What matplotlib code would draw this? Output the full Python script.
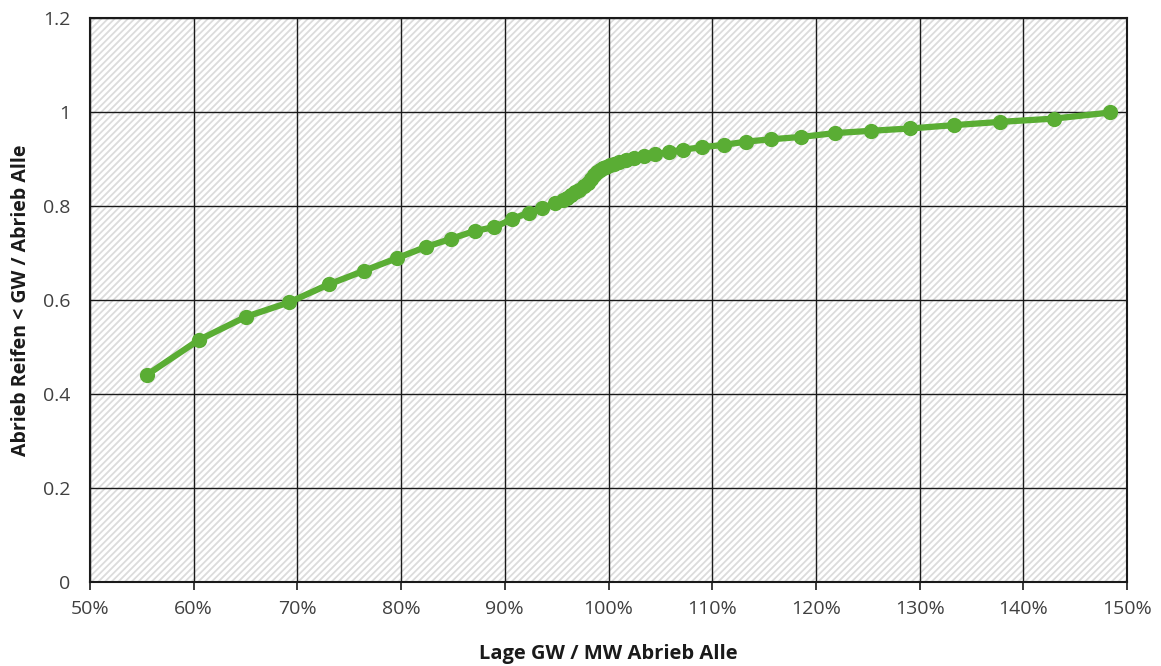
import matplotlib
matplotlib.use("Agg")
import matplotlib.pyplot as plt
from matplotlib.patches import Rectangle
from matplotlib.ticker import FuncFormatter, MultipleLocator

# Lage GW / MW Abrieb Alle (in %)
lage_pct = [55.5, 60.5, 65.0, 69.2, 73.0, 76.4, 79.6, 82.4, 84.8, 87.1,
            89.0, 90.7, 92.3, 93.6, 94.8, 95.6, 96.0, 96.4, 96.8, 97.2,
            97.6, 98.0, 98.3, 98.6, 98.9, 99.2, 99.5, 99.8, 100.1, 100.5,
            101.0, 101.7, 102.5, 103.4, 104.5, 105.8, 107.2, 109.0, 111.1, 113.3,
            115.7, 118.6, 121.8, 125.3, 129.1, 133.3, 137.8, 143.0, 148.4]
# Abrieb Reifen < GW / Abrieb Alle
anteil = [0.441, 0.515, 0.564, 0.595, 0.633, 0.662, 0.689, 0.713, 0.730, 0.747,
          0.755, 0.772, 0.786, 0.795, 0.806, 0.813, 0.818, 0.823, 0.829, 0.835,
          0.842, 0.850, 0.857, 0.865, 0.872, 0.877, 0.881, 0.884, 0.887, 0.890,
          0.894, 0.898, 0.903, 0.907, 0.910, 0.915, 0.920, 0.925, 0.930, 0.937,
          0.942, 0.947, 0.955, 0.960, 0.965, 0.972, 0.979, 0.986, 0.999]

x_label = "Lage GW / MW Abrieb Alle"
y_label = "Abrieb Reifen < GW / Abrieb Alle"

plt.rcParams['font.family'] = ['Open Sans', 'DejaVu Sans']
plt.rcParams['hatch.color'] = '#dcdcdc'
plt.rcParams['hatch.linewidth'] = 1.3

fig = plt.figure(figsize=(11.61, 6.66), dpi=100)
ax = fig.add_axes([90 / 1161, 84 / 666, (1127 - 90) / 1161, (582 - 18) / 666])

# hatched plot area background
ax.add_patch(Rectangle((0, 0), 1, 1, transform=ax.transAxes, facecolor='white',
                       edgecolor='#dcdcdc', hatch='/////', linewidth=0, zorder=0))

ax.set_xlim(50, 150)
ax.set_ylim(0, 1.2)
ax.xaxis.set_major_locator(MultipleLocator(10))
ax.yaxis.set_major_locator(MultipleLocator(0.2))
ax.xaxis.set_major_formatter(FuncFormatter(lambda v, p: f"{v:.0f}%"))
ax.yaxis.set_major_formatter(FuncFormatter(lambda v, p: "0" if abs(v) < 1e-9 else f"{v:g}"))

ax.grid(True, color='#1a1a1a', linewidth=1.0, zorder=1)
ax.set_axisbelow(True)
for s in ax.spines.values():
    s.set_color('#1a1a1a')
    s.set_linewidth(1.5)

ax.tick_params(axis='x', direction='out', length=6, width=1.2, color='#1a1a1a',
               labelsize=14, labelcolor='#404040', pad=7)
ax.tick_params(axis='y', length=0, labelsize=14, labelcolor='#404040', pad=14)

ax.plot(lage_pct, anteil, color='#5aad34', linewidth=4.5, marker='o',
        markersize=11, markeredgewidth=0, zorder=3, clip_on=False)

ax.set_xlabel(x_label, fontsize=14.5, fontweight='bold', color='#1a1a1a', labelpad=19)
ax.set_ylabel(y_label, fontsize=14, fontweight='bold', color='#1a1a1a', labelpad=9)

fig.savefig("out.png", dpi=100)
